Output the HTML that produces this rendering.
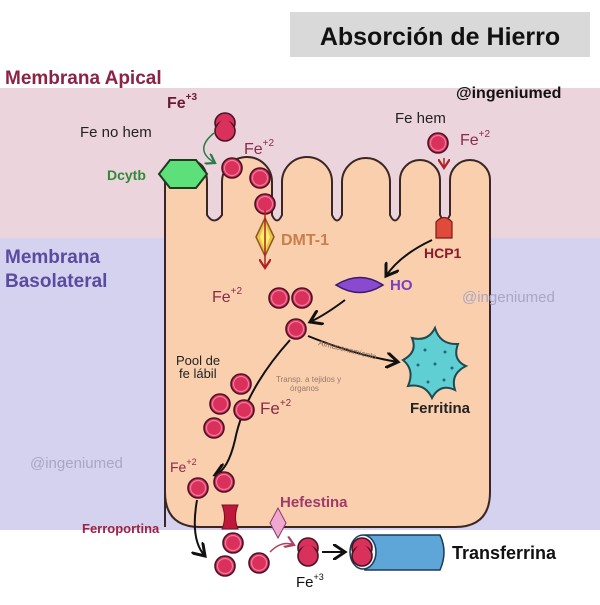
<!DOCTYPE html><html><head><style>body{margin:0}svg text{font-family:"Liberation Sans",sans-serif}</style></head><body>
<svg width="600" height="600" viewBox="0 0 600 600" xmlns="http://www.w3.org/2000/svg">
<defs>
<g id="b"><circle r="10" fill="#d9305c" stroke="#4a1424" stroke-width="1.6"/><circle r="7.5" fill="none" stroke="#f27a9a" stroke-width="1.2"/></g>
<g id="d"><circle cx="0" cy="-4" r="10" fill="#d9305c" stroke="#4a1424" stroke-width="1.6"/><circle cx="0" cy="4" r="10" fill="#d9305c" stroke="#4a1424" stroke-width="1.6"/><circle cx="0" cy="0" r="7" fill="#d9305c"/></g>
<marker id="a" markerWidth="8" markerHeight="8" refX="6" refY="4" orient="auto"><path d="M0,0 L6,4 L0,8" fill="none" stroke="#111" stroke-width="1.5"/></marker>
<marker id="ar" markerWidth="8" markerHeight="8" refX="6" refY="4" orient="auto"><path d="M0,0 L6,4 L0,8" fill="none" stroke="#b02020" stroke-width="1.5"/></marker>
<marker id="ag" markerWidth="8" markerHeight="8" refX="6" refY="4" orient="auto"><path d="M0,0 L6,4 L0,8" fill="none" stroke="#2a7a4a" stroke-width="1.5"/></marker>
<marker id="ap" markerWidth="8" markerHeight="8" refX="6" refY="4" orient="auto"><path d="M0,0 L6,4 L0,8" fill="none" stroke="#b04060" stroke-width="1.5"/></marker>
</defs>
<rect width="600" height="600" fill="#fff"/>
<rect y="88" width="600" height="150" fill="#ecd4dc"/>
<rect y="238" width="600" height="292" fill="#d4d2ee"/>
<rect x="290" y="12" width="300" height="45" fill="#d9d9d9"/>
<text x="440" y="45" font-size="25" font-weight="bold" text-anchor="middle" fill="#111">Absorción de Hierro</text>
<text x="456" y="98" font-size="16" font-weight="bold" fill="#111">@ingeniumed</text>
<text x="5" y="84" font-size="19" font-weight="bold" fill="#8a2344">Membrana Apical</text>
<text x="5" y="263" font-size="19" font-weight="bold" fill="#5a4aa0">Membrana</text>
<text x="5" y="287" font-size="19" font-weight="bold" fill="#5a4aa0">Basolateral</text>
<text x="30" y="468" font-size="15" fill="#a9a6c6">@ingeniumed</text>
<path d="M165,527 L165,182 Q165,160 186,160 Q207,160 207,182 L207,215 Q214,226 222,215 L222,182 A25,25 0 0 1 272,182 L272,215 Q277,226 282,215 L282,182 A25,25 0 0 1 332,182 L332,215 Q337,226 342,215 L342,182 A24,24 0 0 1 390,182 L390,215 Q395,226 400,215 L400,180 A20,20 0 0 1 440,180 L440,215 Q445,226 450,215 L450,180 A20,20 0 0 1 490,180 L490,492 Q490,527 455,527 L200,527 Q165,527 165,492 Z" fill="#f9cfae" stroke="#3a2626" stroke-width="2"/>
<text x="462" y="302" font-size="15" fill="#a9a6c6">@ingeniumed</text>
<!-- Dcytb -->
<polygon points="170,160 196,160 207,174 196,188 170,188 159,174" fill="#5de07a" stroke="#1f3a22" stroke-width="2"/>
<text x="107" y="180" font-size="14" font-weight="bold" fill="#2e8a3a">Dcytb</text>
<text x="80" y="137" font-size="15" fill="#222">Fe no hem</text>
<text x="167" y="108" font-size="16" font-weight="bold" fill="#6a1a34">Fe<tspan font-size="10" dy="-8">+3</tspan></text>
<use href="#d" x="225" y="127"/>
<path d="M214,133 Q193,150 215,163" fill="none" stroke="#2a7a4a" stroke-width="1.5" marker-end="url(#ag)"/>
<text x="244" y="154" font-size="16" fill="#8a2a4a">Fe<tspan font-size="10" dy="-8">+2</tspan></text>
<use href="#b" x="232" y="168"/><use href="#b" x="260" y="178"/><use href="#b" x="265" y="204"/>
<!-- DMT1 -->
<polygon points="256,237 265,218 274,237 265,256" fill="#f0c050" stroke="#8a5a1a" stroke-width="1.5"/>
<polygon points="260,237 265,224 270,237 265,250" fill="#f8f06a"/>
<line x1="265" y1="210" x2="265" y2="268" stroke="#b02020" stroke-width="1.5" marker-end="url(#ar)"/>
<text x="281" y="245" font-size="16" font-weight="bold" fill="#c8804a">DMT-1</text>
<!-- hem -->
<text x="395" y="123" font-size="15" fill="#222">Fe hem</text>
<use href="#b" x="438" y="143"/>
<text x="460" y="145" font-size="16" fill="#8a2a4a">Fe<tspan font-size="10" dy="-8">+2</tspan></text>
<line x1="444" y1="158" x2="444" y2="168" stroke="#b02020" stroke-width="1.5" marker-end="url(#ar)"/>
<path d="M436,238 L436,222 Q444,213 452,222 L452,238 Z" fill="#e04a3a" stroke="#7a1a1a" stroke-width="1.2"/>
<text x="424" y="258" font-size="14" font-weight="bold" fill="#8a1a2a">HCP1</text>
<path d="M432,240 Q400,255 386,276" fill="none" stroke="#111" stroke-width="2" marker-end="url(#a)"/>
<path d="M336,285 Q360,270 383,285 Q360,300 336,285 Z" fill="#8a4ad0" stroke="#3a1a6a" stroke-width="1.5"/>
<text x="390" y="290" font-size="15" font-weight="bold" fill="#7a40c0">HO</text>
<path d="M345,300 Q325,315 310,322" fill="none" stroke="#111" stroke-width="2" marker-end="url(#a)"/>
<text x="212" y="302" font-size="16" fill="#8a2a4a">Fe<tspan font-size="10" dy="-8">+2</tspan></text>
<use href="#b" x="279" y="298"/><use href="#b" x="302" y="298"/>
<use href="#b" x="296" y="329"/>
<path d="M308,336 Q355,355 398,362" fill="none" stroke="#111" stroke-width="2" marker-end="url(#a)"/>
<text x="318" y="345" font-size="8" fill="#8a6a5a" transform="rotate(14 318 345)">Almacenamiento</text>
<!-- ferritin -->
<path d="M435,328 Q440,345 458,344 Q452,360 466,366 Q450,374 455,390 Q440,383 432,398 Q425,383 408,386 Q415,370 403,360 Q418,352 412,338 Q428,342 435,328 Z" fill="#5fcfd4" stroke="#1f4a50" stroke-width="2"/>
<g fill="#1f6a7a"><circle cx="425" cy="350" r="1.5"/><circle cx="445" cy="352" r="1.5"/><circle cx="418" cy="365" r="1.5"/><circle cx="452" cy="368" r="1.5"/><circle cx="428" cy="382" r="1.5"/><circle cx="444" cy="380" r="1.5"/><circle cx="435" cy="364" r="1.5"/></g>
<text x="410" y="413" font-size="15" font-weight="bold" fill="#222">Ferritina</text>
<path d="M290,340 Q245,390 235,440 Q228,470 215,475" fill="none" stroke="#111" stroke-width="2" marker-end="url(#a)"/>
<text x="276" y="382" font-size="8" fill="#9a7a6a">Transp. a tejidos y</text>
<text x="290" y="391" font-size="8" fill="#9a7a6a">órganos</text>
<text x="176" y="365" font-size="13" fill="#222">Pool de</text>
<text x="179" y="378" font-size="13" fill="#222">fe lábil</text>
<use href="#b" x="241" y="384"/><use href="#b" x="220" y="404"/><use href="#b" x="244" y="410"/><use href="#b" x="214" y="428"/>
<text x="260" y="414" font-size="17" fill="#8a2a4a">Fe<tspan font-size="10" dy="-8">+2</tspan></text>
<text x="170" y="472" font-size="14" fill="#8a2a4a">Fe<tspan font-size="9" dy="-7">+2</tspan></text>
<use href="#b" x="198" y="488"/><use href="#b" x="224" y="482"/>
<!-- ferroportin -->
<path d="M222,505 L238,505 Q233,517 238,529 L222,529 Q227,517 222,505 Z" fill="#c0183a" stroke="#7a1020" stroke-width="1"/>
<text x="82" y="533" font-size="13" font-weight="bold" fill="#a02040">Ferroportina</text>
<path d="M278,508 L286,523 L278,538 L270,523 Z" fill="#f0a8d0" stroke="#8a3a6a" stroke-width="1"/>
<text x="280" y="507" font-size="15" font-weight="bold" fill="#a03a6a">Hefestina</text>
<path d="M197,500 Q190,540 205,556" fill="none" stroke="#111" stroke-width="2" marker-end="url(#a)"/>
<use href="#b" x="233" y="543"/><use href="#b" x="225" y="566"/><use href="#b" x="259" y="563"/>
<path d="M270,552 Q282,540 294,545" fill="none" stroke="#b04060" stroke-width="1.5" marker-end="url(#ap)"/>
<use href="#d" x="308" y="552"/>
<text x="296" y="587" font-size="15" fill="#111">Fe<tspan font-size="9" dy="-7">+3</tspan></text>
<line x1="322" y1="552" x2="345" y2="552" stroke="#111" stroke-width="2" marker-end="url(#a)"/>
<path d="M365,535 L440,535 Q448,552 440,570 L365,570 Z" fill="#5ea6d8" stroke="#1a3a5a" stroke-width="1.5"/>
<ellipse cx="363" cy="552" rx="13" ry="17" fill="#eef4f8" stroke="#1a3a5a" stroke-width="1.5"/>
<use href="#d" x="362" y="552"/>
<text x="452" y="559" font-size="18" font-weight="bold" fill="#111">Transferrina</text>
</svg></body></html>
